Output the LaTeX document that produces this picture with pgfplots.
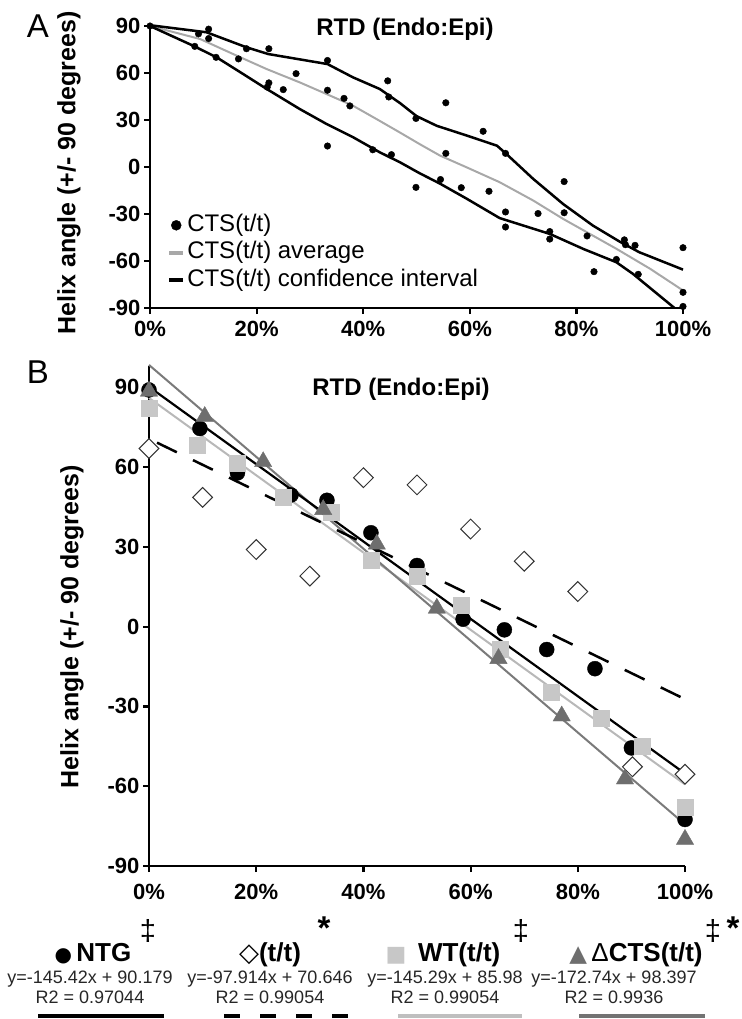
\documentclass[border=0pt]{standalone}
\usepackage{fontspec}
\setmainfont{Liberation Sans}
\newfontfamily\symfont{DejaVu Sans}
\usepackage{pgfplots}
\pgfplotsset{compat=1.18}
\definecolor{wtgray}{gray}{0.78}
\definecolor{ctsgray}{gray}{0.43}
\definecolor{avggray}{gray}{0.66}

\pgfplotsset{
 panel/.style={scale only axis, axis lines=left, axis line style={line width=2.6pt,-},
  tick align=outside, major tick length=6pt, tick style={line width=2.2pt,black},
  xmin=0, xmax=100, xtick={0,20,...,100}, xticklabels={0\%,20\%,40\%,60\%,80\%,100\%},
  ytick={-90,-60,...,90}, yticklabels={-90,-60,-30,0,30,60,90},
  tick label style={font=\fontsize{22}{22}\selectfont\bfseries}, clip=false},
}

\begin{document}
\begin{tikzpicture}
\path[use as bounding box] (0,0) rectangle (741pt,-1019pt);

% panel A
\begin{axis}[panel, at={(150pt,-308pt)}, anchor=south west, width=533pt, height=282pt,
  ymin=-90, ymax=90, xticklabel style={yshift=-4pt},
  legend style={draw=none, fill=none, inner sep=0pt, at={(0.032,0.333)}, anchor=north west,
   font=\fontsize{24}{26}\selectfont, row sep=5.5pt,
   nodes={inner ysep=0pt, inner xsep=2pt, text height=17pt, text depth=5pt}},
  legend cell align=left,
  legend image code/.code={\draw[#1, line width=4pt] (0pt,0pt) -- (14pt,0pt);}]
 \addplot[only marks, mark=*, mark size=3.3pt, black,
  legend image code/.code={\fill[black] (7pt,0pt) circle (5pt);}] coordinates {
  (0,90)(8.4,77)(9.1,85)(11,88)(11,82)(12.4,70)(16.6,69)(18.1,75.5)(22.3,75.5)
  (22.3,53.7)(22,51)(25,49.4)(27.4,59.6)(33.3,68)(33.3,49)(33.3,13.4)(36.4,43.8)
  (37.5,39)(41.8,11)(44.6,55)(44.8,44.7)(45.3,7.9)(49.9,31)(49.9,-13)(54.5,-8)
  (55.5,41)(55.5,8.7)(58.4,-13.2)(62.5,22.8)(63.6,-15.5)(66.7,8.7)(66.7,-28.7)
  (66.7,-38.3)(72.8,-29.7)(75,-41.2)(75,-46)(77.7,-9.3)(77.7,-29.2)(82,-44)
  (83.3,-66.8)(87.5,-59)(89,-46.5)(89.2,-49.6)(91,-50)(91.6,-68.5)(100,-51.5)
  (100,-80)(100,-89)};
 \addlegendentry{CTS(t/t)}
 \addplot[avggray, line width=2pt] coordinates {
  (0,90)(9.4,81.7)(15.6,72.1)(21.9,62.5)(28.1,54)(33.1,46.6)(38.1,39.1)(42.5,30.6)
  (46.9,22)(50.6,14.6)(54.4,7.3)(59.4,-0.2)(65.6,-9.7)(71.9,-21.4)(77.5,-33.1)
  (83.1,-43.8)(87.5,-52.2)(93.8,-64.9)(100,-78.8)};
 \addlegendentry{CTS(t/t) average}
 \addplot[black, line width=2.5pt] coordinates {
  (0,90.5)(10.6,86)(18.1,76.4)(22.2,72.1)(33.3,65.7)(38.1,57.2)(43.1,49.8)
  (46.9,40.8)(50,32.5)(53.8,26.3)(59.5,20)(65.1,13.6)(66.9,8.2)(71.9,-7.6)
  (77.5,-23.6)(83.1,-37.4)(88.1,-47.6)(91.8,-54.4)(100,-65.5)};
 \addlegendentry{CTS(t/t) confidence interval}
 \addplot[black, line width=2.5pt, forget plot] coordinates {
  (0,90)(8.1,77.4)(12.5,70)(17.5,59.3)(21.9,49.8)(28.1,37)(33.1,27.5)(38.1,19)
  (43.1,9.4)(46.9,3)(50.6,-4)(54.4,-10.6)(59.4,-20.2)(65.6,-32.6)(66.9,-34)
  (75,-42.7)(81.3,-52.3)(87.5,-60.8)(90.6,-68.2)(98.4,-90)};
\end{axis}

% panel B
\begin{axis}[panel, at={(149pt,-866pt)}, anchor=south west, width=536pt, height=500pt,
  ymin=-90, ymax=98, xticklabel style={yshift=-9pt}]
 \addplot[only marks, mark=*, mark size=7.5pt, black] coordinates {
  (0,89)(9.5,74.5)(16.5,57.8)(26.5,49.5)(33.2,47.5)(41.4,35.3)(50,23)(58.6,2.8)
  (66.3,-1.2)(74.2,-8.6)(83.2,-15.8)(90,-45.6)(100,-72.5)};
 \addplot[only marks, mark=square*, mark size=7pt,
  mark options={rotate=45, fill=white, draw=black!80, line width=1pt}] coordinates {
  (0,67)(10,48.6)(20,29)(30,19)(40,56)(50,53.3)(60,36.7)(70,24.6)(80,13.2)
  (90.2,-52.7)(100,-55.5)};
 \addplot[only marks, mark=square*, mark size=8pt, wtgray] coordinates {
  (0,82)(9,68.2)(16.4,61.4)(25,48.5)(33.9,43)(41.5,25)(50,19)(58.3,8.2)(65.5,-8.5)
  (75,-24.5)(84.3,-34.5)(92,-45)(100,-68)};
 \addplot[only marks, mark=triangle*, mark size=10pt, ctsgray] coordinates {
  (0,88.5)(10.4,79)(21.3,62)(32.5,44)(42.5,31)(53.7,6.9)(65.2,-12)(77,-33.6)
  (88.8,-57.3)(100,-80)};
 \addplot[black!28, line width=2pt] coordinates {(0,85.98)(100,-59.31)};
 \addplot[black!52, line width=2pt] coordinates {(0,98.397)(100,-74.343)};
 \addplot[black, line width=2.2pt] coordinates {(0,90.179)(100,-55.241)};
 \addplot[black, line width=2.5pt, dash pattern=on 22pt off 18pt] coordinates {(1.5,69.18)(100,-27.268)};
\end{axis}

% panel letters, titles, axis titles
\node[font=\fontsize{33}{33}\selectfont] at (38pt,-26pt) {A};
\node[font=\fontsize{33}{33}\selectfont] at (38pt,-372pt) {B};
\node[font=\fontsize{24}{24}\selectfont\bfseries] at (405pt,-29pt) {RTD (Endo:Epi)};
\node[font=\fontsize{24}{24}\selectfont\bfseries] at (401pt,-389pt) {RTD (Endo:Epi)};
\node[rotate=90, font=\fontsize{25}{25}\selectfont\bfseries] at (69pt,-173pt) {Helix angle (+/- 90 degrees)};
\node[rotate=90, font=\fontsize{25}{25}\selectfont\bfseries] at (72pt,-627pt) {Helix angle (+/- 90 degrees)};

% regression legend below panel B
\node[anchor=base, font=\fontsize{26}{26}\selectfont\bfseries] at (93pt,-961pt) {{\symfont\fontsize{20}{20}\selectfont ●}\,NTG};
\node[anchor=base, font=\fontsize{26}{26}\selectfont\bfseries] at (270pt,-961pt) {{\symfont\mdseries\fontsize{26}{26}\selectfont ◇}(t/t)};
\node[anchor=base, font=\fontsize{26}{26}\selectfont\bfseries] at (443pt,-961pt) {{\symfont\fontsize{22}{22}\selectfont\color{wtgray}■}\, WT(t/t)};
\node[anchor=base, font=\fontsize{26}{26}\selectfont\bfseries] at (636pt,-961pt) {{\symfont\fontsize{23}{23}\selectfont\color{ctsgray}▲}\,{\mdseries Δ}CTS(t/t)};
\node[inner sep=0pt, font=\fontsize{29}{29}\selectfont] at (148pt,-931pt) {‡};
\node[inner sep=0pt, font=\fontsize{33}{33}\selectfont\bfseries] at (324pt,-928pt) {*};
\node[inner sep=0pt, font=\fontsize{29}{29}\selectfont] at (521pt,-931pt) {‡};
\node[inner sep=0pt, font=\fontsize{29}{29}\selectfont] at (713pt,-931pt) {‡};
\node[inner sep=0pt, font=\fontsize{33}{33}\selectfont\bfseries] at (733pt,-928pt) {*};

\foreach \x/\eq/\rr in {90/{y=-145.42x + 90.179}/0.97044, 270/{y=-97.914x + 70.646}/0.99054,
  445/{y=-145.29x + 85.98}/0.99054, 614/{y=-172.74x + 98.397}/0.9936} {
 \node[anchor=base, text=black!85, font=\fontsize{18}{18}\selectfont] at (\x pt,-983pt) {\eq};
 \node[anchor=base, text=black!85, font=\fontsize{18}{18}\selectfont] at (\x pt,-1003pt) {R2 = \rr};
}
\draw[line width=4pt, black] (38pt,-1016pt) -- (164pt,-1016pt);
\draw[line width=4pt, black, dash pattern=on 16pt off 20pt] (224pt,-1016pt) -- (350pt,-1016pt);
\draw[line width=4pt, black!25] (398pt,-1016pt) -- (522pt,-1016pt);
\draw[line width=4pt, black!55] (579pt,-1016pt) -- (705pt,-1016pt);
\end{tikzpicture}
\end{document}
